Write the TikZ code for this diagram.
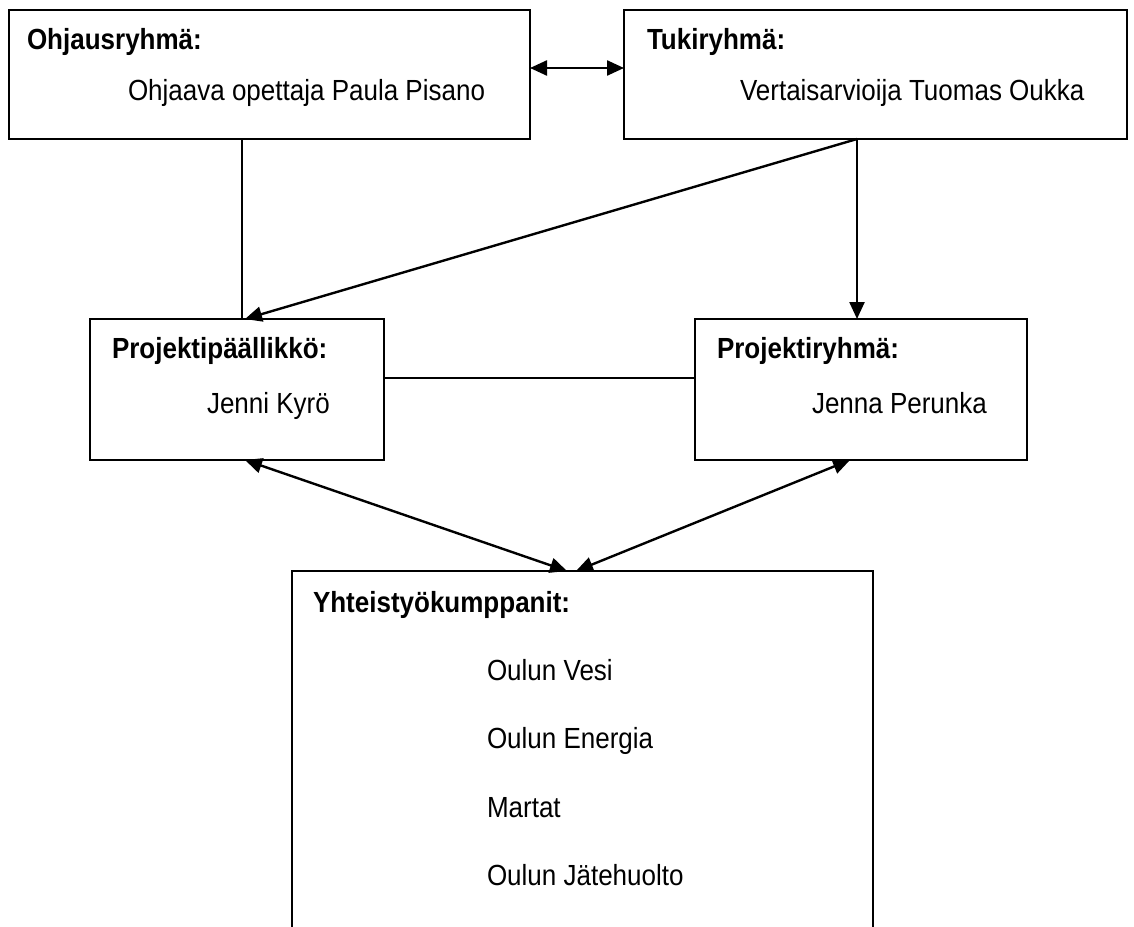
\documentclass[tikz,border=0pt]{standalone}
\usepackage{graphicx}
\usepackage{fontspec}
\setmainfont{Liberation Sans}
\usetikzlibrary{arrows.meta}
\newcommand{\tall}[1]{\scalebox{1}[1.12]{#1}}
\begin{document}
\begin{tikzpicture}[x=0.5pt, y=-0.5pt, line width=1.2pt, >={Triangle[length=8.5pt,width=7.5pt]},
  every node/.style={inner sep=0, outer sep=0},
  box/.style={draw, line width=1.2pt},
  txt/.style={anchor=base west, font=\fontsize{13}{15}\selectfont},
  head/.style={txt, font=\fontsize{13}{15}\selectfont\bfseries}]
  \clip (0,0) rectangle (1134,926);
  \node [box, minimum width=260.5pt, minimum height=64.5pt] (ohj) at (269.5,74.5) {};
  \node [box, minimum width=251.5pt, minimum height=64.5pt] (tuki) at (875.5,74.5) {};
  \node [box, minimum width=147pt, minimum height=70.5pt] (pp) at (237,389.5) {};
  \node [box, minimum width=166pt, minimum height=70.5pt] (pr) at (861,389.5) {};
  \node [box, minimum width=290.5pt, minimum height=194.5pt] (yht) at (582.5,765.5) {};
  \node [head] (ohjh) at (27,49) {\tall{Ohjausryhmä:}};
  \node [txt] (ohjt) at (128,100) {\tall{Ohjaava opettaja Paula Pisano}};
  \node [head] (tukih) at (647,49) {\tall{Tukiryhmä:}};
  \node [txt] (tukit) at (740,100) {\tall{Vertaisarvioija Tuomas Oukka}};
  \node [head] (pph) at (112,358) {\tall{Projektipäällikkö:}};
  \node [txt] (ppt) at (207,413) {\tall{Jenni Kyrö}};
  \node [head] (prh) at (717,358) {\tall{Projektiryhmä:}};
  \node [txt] (prt) at (812,413) {\tall{Jenna Perunka}};
  \node [head] (yhth) at (313,612) {\tall{Yhteistyökumppanit:}};
  \node [txt] (y1) at (487,680) {\tall{Oulun Vesi}};
  \node [txt] (y2) at (487,748) {\tall{Oulun Energia}};
  \node [txt] (y3) at (487,817) {\tall{Martat}};
  \node [txt] (y4) at (487,885) {\tall{Oulun Jätehuolto}};
  \coordinate (tk) at ([xshift=-2pt]pr.north |- tuki.south);
  \coordinate (yl) at (567,571);
  \coordinate (yr) at (576,571);
  \draw [<->] ([yshift=3.25pt]ohj.east) -- ([yshift=3.25pt]tuki.west);
  \draw ([xshift=2.5pt]pp.north |- ohj.south) -- ([xshift=2.5pt]pp.north);
  \draw [->] (tk) -- ([xshift=4pt]pp.north);
  \draw [->] (tk) -- (tk |- pr.north);
  \draw ([yshift=5.75pt]pp.east) -- ([yshift=5.75pt]pr.west);
  \draw [<->] ([xshift=4pt]pp.south) -- (yl);
  \draw [<->] ([xshift=-5.5pt]pr.south) -- (yr);
\end{tikzpicture}
\end{document}
